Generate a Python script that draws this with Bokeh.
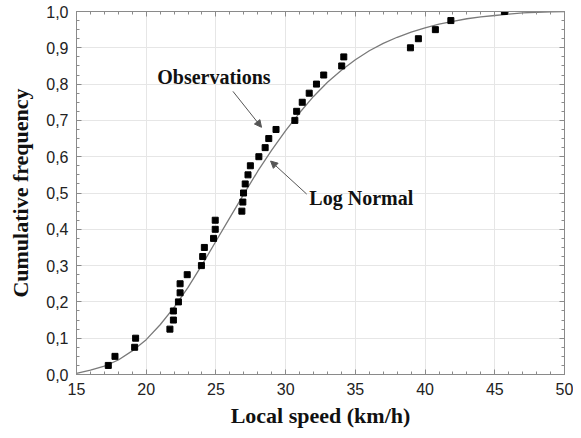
from bokeh.plotting import figure
from bokeh.models import LinearAxis, FixedTicker, Arrow, NormalHead, Label, Range1d
from bokeh.embed import file_html
from bokeh.resources import INLINE

# ---- data ----
obs_speed = [17.28, 17.76, 19.17, 19.24, 21.70, 21.95, 21.95, 22.31, 22.43, 22.43,
             22.94, 23.96, 24.05, 24.17, 24.83, 24.95, 24.95, 26.86, 26.93, 26.98,
             27.10, 27.30, 27.47, 28.08, 28.53, 28.79, 29.31, 30.66, 30.79, 31.19,
             31.69, 32.21, 32.73, 34.02, 34.17, 38.95, 39.52, 40.74, 41.85, 45.69]
obs_freq = [0.025, 0.05, 0.075, 0.1, 0.125, 0.15, 0.175, 0.2, 0.225, 0.25,
            0.275, 0.3, 0.325, 0.35, 0.375, 0.4, 0.425, 0.45, 0.475, 0.5,
            0.525, 0.55, 0.575, 0.6, 0.625, 0.65, 0.675, 0.7, 0.725, 0.75,
            0.775, 0.8, 0.825, 0.85, 0.875, 0.9, 0.925, 0.95, 0.975, 1.0]

curve_speed = [15, 16, 17, 18, 19, 20, 21, 22, 23, 24, 25, 26, 27, 28, 29, 30, 31, 32,
               33, 34, 35, 36, 37, 38, 39, 40, 41, 42, 43, 44, 45, 46, 47, 48, 49, 50]
curve_freq = [0.003, 0.012, 0.023, 0.040, 0.065, 0.096, 0.137, 0.185, 0.240, 0.302,
              0.367, 0.432, 0.497, 0.560, 0.618, 0.672, 0.721, 0.766, 0.805, 0.838,
              0.867, 0.892, 0.912, 0.929, 0.943, 0.955, 0.965, 0.973, 0.980, 0.985,
              0.989, 0.993, 0.996, 0.998, 0.999, 1.0]

x_ticks = [15, 20, 25, 30, 35, 40, 45, 50]
x_tick_labels = ["15", "20", "25", "30", "35", "40", "45", "50"]
y_ticks = [0.0, 0.1, 0.2, 0.3, 0.4, 0.5, 0.6, 0.7, 0.8, 0.9, 1.0]
y_tick_labels = ["0,0", "0,1", "0,2", "0,3", "0,4", "0,5", "0,6", "0,7", "0,8", "0,9", "1,0"]

x_title = "Local speed (km/h)"
y_title = "Cumulative frequency"
obs_label = "Observations"
fit_label = "Log Normal"

# ---- styling / layout ----
x_minor = list(range(15, 51))
y_minor = [i / 40 for i in range(41)]
AX = "#8a8a8a"
TICK_FONT = "Liberation Sans"
SERIF = "Liberation Serif"

p = figure(width=573, height=430, x_range=Range1d(15, 50), y_range=Range1d(0, 1),
           output_backend="svg", toolbar_location=None,
           min_border_left=76, min_border_right=9, min_border_top=11, min_border_bottom=53,
           x_axis_label=x_title, y_axis_label=y_title)
p.background_fill_color = "white"
p.border_fill_color = "white"
p.outline_line_color = AX


def style_axis(ax):
    ax.axis_line_color = AX
    ax.major_tick_line_color = AX
    ax.minor_tick_line_color = AX
    ax.major_tick_in = 5
    ax.major_tick_out = 0
    ax.minor_tick_in = 3
    ax.minor_tick_out = 0
    ax.major_label_text_font = TICK_FONT
    ax.major_label_text_font_size = "16px"
    ax.major_label_text_color = "#222222"
    ax.axis_label_text_font = SERIF
    ax.axis_label_text_font_style = "bold"
    ax.axis_label_text_font_size = "22px"
    ax.axis_label_text_color = "#111111"


xt = FixedTicker(ticks=x_ticks, minor_ticks=x_minor)
yt = FixedTicker(ticks=y_ticks, minor_ticks=y_minor)

xa = p.xaxis[0]
xa.ticker = xt
xa.major_label_overrides = {t: l for t, l in zip(x_ticks, x_tick_labels)}
style_axis(xa)
xa.major_label_standoff = 8
xa.axis_label_standoff = 5

ya = p.yaxis[0]
ya.ticker = yt
ya.major_label_overrides = {t: l for t, l in zip(y_ticks, y_tick_labels)}
style_axis(ya)
ya.major_label_standoff = 8
ya.axis_label_standoff = 10

ra = LinearAxis(ticker=FixedTicker(ticks=y_ticks, minor_ticks=y_minor),
                major_label_overrides={t: "" for t in y_ticks})
style_axis(ra)
ra.major_label_text_font_size = "0px"
ra.major_label_standoff = 0
p.add_layout(ra, "right")

ta = LinearAxis(ticker=FixedTicker(ticks=x_ticks, minor_ticks=x_minor),
                major_label_overrides={t: "" for t in x_ticks})
style_axis(ta)
ta.major_label_text_font_size = "0px"
ta.major_label_standoff = 0
p.add_layout(ta, "above")

p.xgrid.ticker = xt
p.ygrid.ticker = yt
p.xgrid.grid_line_color = "#e6e6e6"
p.ygrid.grid_line_color = "#e6e6e6"

p.line(curve_speed, curve_freq, line_color="#7a7a7a", line_width=1.3)
p.scatter(obs_speed, obs_freq, marker="square", size=6, fill_color="black", line_color="black")

# annotations
obs_pos = (20.79, 0.82)
fit_pos = (31.7, 0.487)
obs_arrow = (26.22, 0.78, 28.27, 0.681)
fit_arrow = (31.51, 0.497, 28.92, 0.588)

for txt, (lx, ly) in ((obs_label, obs_pos), (fit_label, fit_pos)):
    p.add_layout(Label(x=lx, y=ly, text=txt, text_font=SERIF, text_font_style="bold",
                       text_font_size="20px", text_color="#111111",
                       text_baseline="middle", text_align="left"))

for (x0, y0, x1, y1) in (obs_arrow, fit_arrow):
    p.add_layout(Arrow(end=NormalHead(size=7, fill_color="#555555", line_color="#555555"),
                       x_start=x0, y_start=y0, x_end=x1, y_end=y1,
                       line_color="#555555", line_width=1))

open("out.html", "w").write(file_html(p, INLINE))
